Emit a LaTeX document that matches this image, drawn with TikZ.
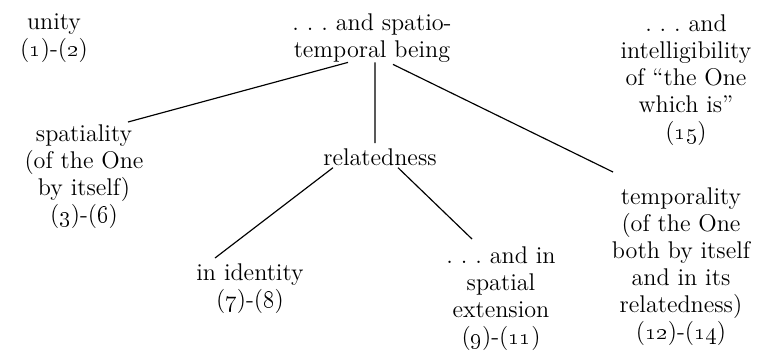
\documentclass[tikz,border=0pt]{standalone}
\newcommand{\osn}[1]{\oldstylenums{#1}}
\begin{document}
\begin{tikzpicture}[x=0.6pt, y=-0.6pt, font=\fontsize{14.5}{16.2}\selectfont]
      \tikzset{txt/.style={align=center, anchor=north, inner sep=0pt},
               link/.style={line width=0.7pt}}
      \useasboundingbox (0,0) rectangle (771,355);
      \node[txt] (unity) at (54,13) {unity\\(\osn{1})-(\osn{2})};
      \node[txt] (being) at (372,13) {.\ .\ .\ and spatio-\\temporal being};
      \node[txt] (intel) at (686,14) {.\ .\ .\ and\\intelligibility\\of “the One\\which is”\\(\osn{15})};
      \node[txt] (spatial) at (84,124) {spatiality\\(of the One\\by itself)\\(\osn{3})-(\osn{6})};
      \node[txt] (related) at (380,148) {relatedness};
      \node[txt] (identity) at (250,263) {in identity\\(\osn{7})-(\osn{8})};
      \node[txt] (extension) at (501,246) {.\ .\ .\ and in\\spatial\\extension\\(\osn{9})-(\osn{11})};
      \node[txt] (temporal) at (681,187) {temporality\\(of the One\\both by itself\\and in its\\relatedness)\\(\osn{12})-(\osn{14})};
      \draw[link] ([xshift=-14.4pt]being.south) -- ([xshift=26.4pt, yshift=1.2pt]spatial.north);
      \draw[link] ([xshift=1.8pt]being.south) -- ([xshift=-3pt, yshift=3pt]related.north);
      \draw[link] ([xshift=12.6pt, yshift=-1.2pt]being.south) -- ([xshift=-40.8pt, yshift=9pt]temporal.north);
      \draw[link] ([xshift=-28.2pt, yshift=-1.2pt]related.south) -- ([xshift=-21pt, yshift=3pt]identity.north);
      \draw[link] ([xshift=10.8pt, yshift=-1.2pt]related.south) -- ([xshift=-17.4pt, yshift=4.2pt]extension.north);
    \end{tikzpicture}
\end{document}
